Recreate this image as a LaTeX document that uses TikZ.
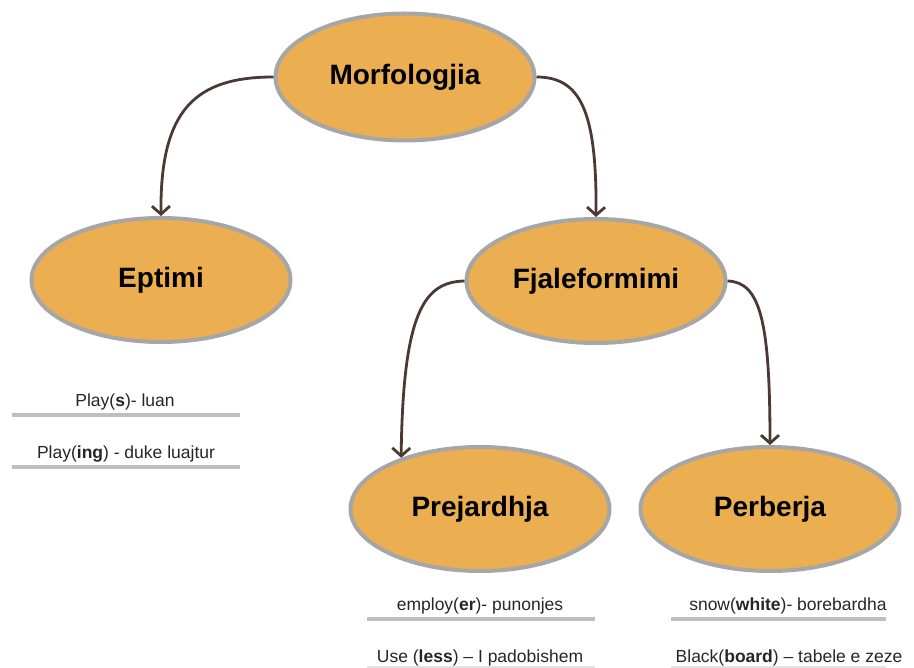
\documentclass[tikz,border=0pt]{standalone}
\usepackage{fontspec}
\setmainfont{Liberation Sans}
\usetikzlibrary{arrows.meta,shapes.geometric}
\definecolor{nodefill}{HTML}{EBAE50}
\definecolor{nodeborder}{HTML}{A6A6A6}
\definecolor{arrowcol}{HTML}{4B3A33}
\definecolor{rulecol}{HTML}{BFBFBF}
\definecolor{faintcol}{HTML}{E2E2E2}
\tikzset{
  topic/.style={ellipse, draw=nodeborder, fill=nodefill, line width=4pt,
    minimum width=259pt, minimum height=124pt, inner sep=0pt,
    font=\fontsize{28}{32}\selectfont\bfseries, text=black},
  link/.style={draw=arrowcol, line width=2.8pt,
    -{Straight Barb[length=8pt,width=18pt,line width=2.8pt]}},
  example/.style={anchor=base, inner sep=0pt, font=\fontsize{17.5}{20}\selectfont, text=black!85},
  rulebar/.style={draw=rulecol, line width=4pt},
  faintbar/.style={draw=faintcol, line width=1.5pt}
}
\begin{document}
\begin{tikzpicture}[x=1pt,y=-1pt]
\useasboundingbox (0,0) rectangle (914,668);

\node[topic, minimum height=127pt] (morf) at (405,77) {Morfologjia};
\node[topic] (epti) at (161,280) {Eptimi};
\node[topic] (fjal) at (596,281) {Fjaleformimi};
\node[topic] (prej) at (480,509) {Prejardhja};
\node[topic] (perb) at (770,509) {Perberja};

\draw[link] (morf.west) .. controls (195,77) and (160,110) .. (epti.north);
\draw[link] (morf.east) .. controls (580,77) and (597,110) .. (fjal.north);
\draw[link] (fjal.west) .. controls (425,282) and (403,310) .. (prej.147);
\draw[link] (fjal.east) .. controls (760,282) and (770,320) .. (perb.north);

\node[example] (e1) at (125,407) {Play(\textbf{s})- luan};
\node[example] (e2) at (126,459) {Play(\textbf{ing}) - duke luajtur};
\node[example] (e3) at (480,610) {employ(\textbf{er})- punonjes};
\node[example] (e4) at (480,662) {Use (\textbf{less}) – I padobishem};
\node[example] (e5) at (788,610) {snow(\textbf{white})- borebardha};
\node[example] (e6) at (789,662) {Black(\textbf{board}) – tabele e zeze};

\draw[rulebar] (12,415) -- (240,415);
\draw[rulebar] (12,467) -- (240,467);
\draw[rulebar] (367,619) -- (595,619);
\draw[rulebar] (671,619) -- (886,619);
\draw[faintbar] (367,667) -- (595,667);
\draw[faintbar] (671,667) -- (886,667);
\end{tikzpicture}
\end{document}
